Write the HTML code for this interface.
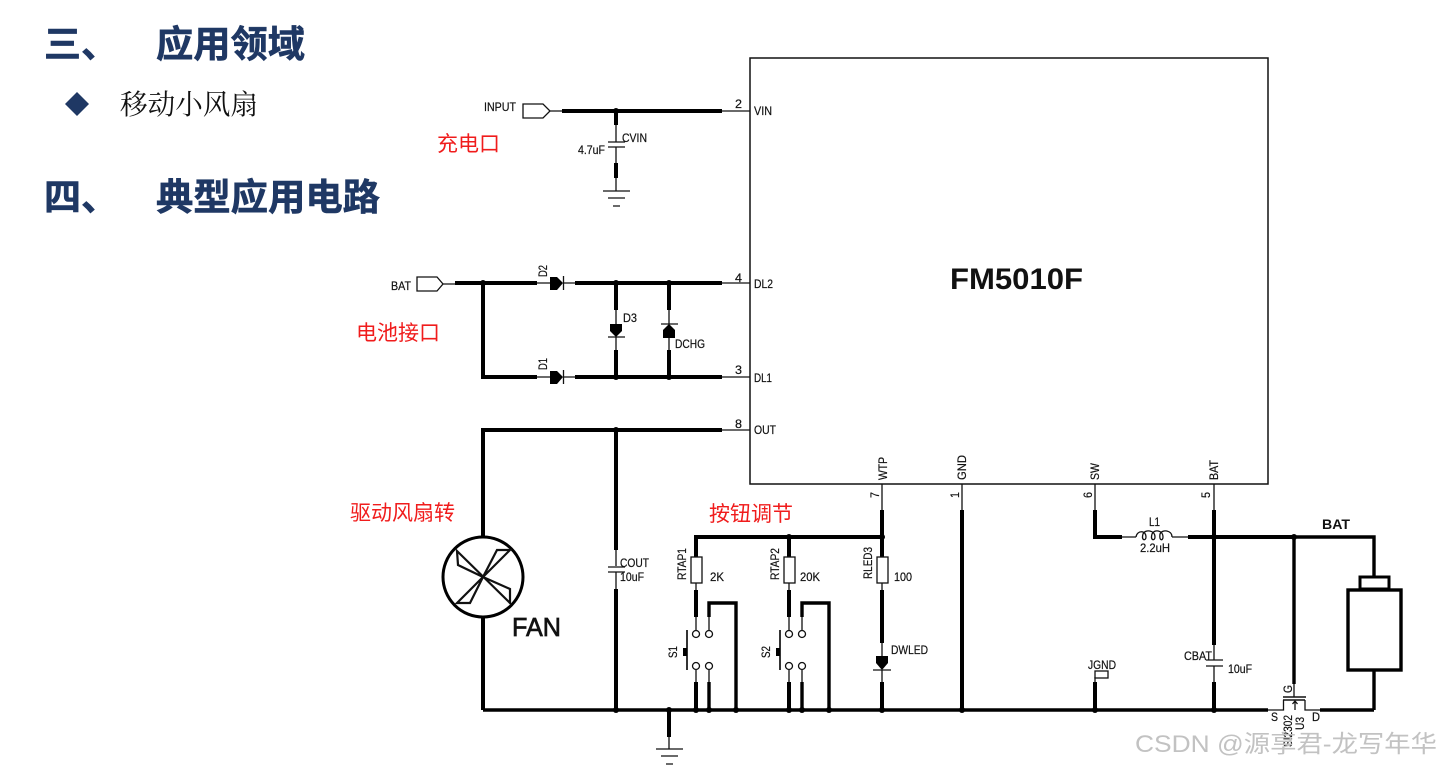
<!DOCTYPE html>
<html>
<head>
<meta charset="utf-8">
<style>
html,body{margin:0;padding:0;background:#fff;}
svg{display:block;}
text{font-family:"Liberation Sans","Noto Sans CJK SC",sans-serif;fill:#111;font-size:12px;stroke:#111;stroke-width:0.2;}
.h{font-family:"Liberation Sans","Noto Sans CJK SC",sans-serif;font-weight:700;font-size:37px;fill:#1f3864;stroke:#1f3864;stroke-width:0.6;}
.r{font-size:21px;fill:#f01c1c;stroke:none;}
.s{font-family:"Liberation Serif","Noto Serif CJK SC",serif;font-size:27.6px;fill:#111;stroke:none;}
.k{fill:none;stroke:#000;stroke-width:4;}
.m{fill:none;stroke:#000;stroke-width:3.4;}
.t{fill:none;stroke:#111;stroke-width:1.3;}
.o{fill:#fff;stroke:#111;stroke-width:1.3;}
</style>
</head>
<body>
<svg width="1441" height="769" viewBox="0 0 1441 769" xmlns="http://www.w3.org/2000/svg">
<rect width="1441" height="769" fill="#fff"/>

<!-- Left text -->
<text class="h" x="44" y="57">三、</text>
<text class="h" x="156" y="57" textLength="149" lengthAdjust="spacingAndGlyphs">应用领域</text>
<polygon points="77,92 89,104 77,116 65,104" fill="#1f3864"/>
<text class="s" x="120" y="114">移动小风扇</text>
<text class="h" x="44" y="210">四、</text>
<text class="h" x="156" y="210" textLength="224" lengthAdjust="spacingAndGlyphs">典型应用电路</text>

<text class="r" x="437" y="151">充电口</text>
<text class="r" x="356" y="340">电池接口</text>
<text class="r" x="350" y="520">驱动风扇转</text>
<text class="r" x="709" y="521">按钮调节</text>

<!-- Chip -->
<rect x="750" y="58" width="518" height="426" fill="#fff" stroke="#111" stroke-width="1.5"/>
<text x="950" y="289" style="font-size:30px;font-weight:700;stroke-width:0" textLength="133" lengthAdjust="spacingAndGlyphs">FM5010F</text>

<!-- Input section -->
<polygon class="o" points="523,104 543,104 550,111 543,118 523,118"/>
<path class="t" d="M550 111H562M722 111H750M616 125V142M616 147V163M616 178V191"/>
<path class="k" d="M562 111H722M616 111V125M616 163V178"/>
<path class="t" stroke-width="1.6" d="M608 142H625M608 147H625M603 191H630M608 198H625M613 206H620"/>

<!-- BAT diode section -->
<polygon class="o" points="417,277 437,277 443,284 437,291 417,291"/>
<path class="t" d="M443 284H455M537 283H550M563 283H575M722 283H750M537 377H550M563 377H575M722 377H750M616 310V325M616 337V350M669 310V324M669 338V350"/>
<path class="k" d="M455 283H537M575 283H722M483 283V377H537M575 377H722M616 283V310M616 350V377M669 283V310M669 350V377"/>
<polygon points="550,277 557,277 563,283 557,290 550,290" fill="#000"/>
<path class="t" d="M563.500 276V290M563.500 370V384"/>
<polygon points="550,371 557,371 563,377 557,384 550,384" fill="#000"/>
<polygon points="610,324 622,324 622,331 616,337 610,331" fill="#000"/>
<path class="t" d="M608 337H625M661 324H678"/>
<polygon points="669,324 675,330 675,338 663,338 663,330" fill="#000"/>

<!-- OUT / FAN -->
<path class="t" d="M722 430H750M616 550V566M616 572V589"/>
<path class="k" d="M722 430H483V537M483 617V710M616 430V550M616 589V710"/>
<path class="t" stroke-width="1.6" d="M608 567H625M608 572H625"/>
<circle cx="483" cy="577" r="40" fill="#fff" stroke="#000" stroke-width="3"/>
<path fill="none" stroke="#111" stroke-width="2.200" d="M457 551L510 603V589L483 577L458 565ZM510 550L457 603H470L483 577L497 550Z"/>

<!-- Bottom bus -->
<path class="m" d="M483 710H1268M1320 710H1374"/>
<path class="k" d="M669 710V737"/>
<path class="t" d="M669 737V749"/>
<path class="t" stroke-width="1.6" d="M656 749H683M661 756H678M666 764H673"/>

<!-- Top button rail -->
<path class="k" d="M696 557V537H882"/>
<path class="k" d="M789 537V557"/>

<!-- RTAP1 + S1 -->
<rect class="o" x="691" y="557" width="11" height="26"/>
<path class="t" d="M696 583V590M696 617V630M696 670V682M709 617V630M709 670V682"/>
<path class="k" d="M696 590V617M696 682V710"/>
<path class="m" d="M709 617V603H736V710M709 682V710"/>
<circle class="o" cx="696" cy="634" r="3.500"/><circle class="o" cx="709" cy="634" r="3.500"/>
<circle class="o" cx="696" cy="666" r="3.500"/><circle class="o" cx="709" cy="666" r="3.500"/>
<path d="M687 630V670" stroke="#000" stroke-width="1.600"/>
<rect x="683" y="648" width="4" height="8" fill="#000"/>

<!-- RTAP2 + S2 -->
<rect class="o" x="784" y="557" width="11" height="26"/>
<path class="t" d="M789 583V590M789 617V630M789 670V682M802 617V630M802 670V682"/>
<path class="k" d="M789 590V617M789 682V710"/>
<path class="m" d="M802 617V603H829V710M802 682V710"/>
<circle class="o" cx="789" cy="634" r="3.500"/><circle class="o" cx="802" cy="634" r="3.500"/>
<circle class="o" cx="789" cy="666" r="3.500"/><circle class="o" cx="802" cy="666" r="3.500"/>
<path d="M780 630V670" stroke="#000" stroke-width="1.600"/>
<rect x="776" y="648" width="4" height="8" fill="#000"/>

<!-- RLED3 + DWLED -->
<path class="t" d="M882 484V510M882 583V590M882 643V656M882 670V682"/>
<path class="k" d="M882 510V557M882 590V643M882 682V710"/>
<rect class="o" x="877" y="557" width="11" height="26"/>
<polygon points="876,656 888,656 888,663 882,670 876,663" fill="#000"/>
<path class="t" stroke-width="1.600" d="M873 670H891"/>

<!-- GND -->
<path class="t" d="M962 484V510"/>
<path class="k" d="M962 510V710"/>

<!-- SW / L1 / BAT -->
<path class="t" d="M1095 484V510M1214 484V510M1122 537H1136M1172 537H1188M1214 645V660M1214 666V682"/>
<path class="k" d="M1095 510V537H1122M1188 537H1294M1214 510V645M1214 682V710"/>
<path class="m" d="M1294 537H1374V577M1294 537V684M1374 670V710"/>
<path fill="none" stroke="#111" stroke-width="1.300" d="M1136 537C1137 530 1146 530 1146 537C1146 541 1141 541 1143 534C1145 529 1155 530 1155 537C1155 541 1150 541 1152 534C1154 529 1163 530 1163 537C1163 541 1159 541 1160 534C1162 529 1172 530 1172 537"/>
<path class="t" stroke-width="1.600" d="M1206 660H1223M1206 666H1223"/>

<!-- Battery -->
<rect x="1360" y="577" width="29" height="12" fill="#fff" stroke="#000" stroke-width="3"/>
<rect x="1348" y="590" width="53" height="80" fill="#fff" stroke="#000" stroke-width="3.400"/>

<!-- JGND -->
<path class="t" d="M1095 677V682"/>
<path class="k" d="M1095 682V710"/>
<rect class="o" x="1095" y="671" width="13" height="7"/>

<!-- FET -->
<path class="t" d="M1268 710H1283.500V700M1305 700V710H1320M1294 684V697M1295 710V701M1292.500 704L1295 701L1297.500 704"/>
<path d="M1283 700H1305M1283 697H1306" stroke="#111" stroke-width="1.600"/>

<!-- Junction dots -->
<g fill="#000">
<circle cx="616" cy="111" r="3"/>
<circle cx="483" cy="283" r="3"/>
<circle cx="616" cy="283" r="3"/><circle cx="669" cy="283" r="3"/>
<circle cx="616" cy="377" r="3"/><circle cx="669" cy="377" r="3"/>
<circle cx="616" cy="430" r="3"/>
<circle cx="616" cy="710" r="3"/><circle cx="669" cy="710" r="3"/>
<circle cx="696" cy="710" r="3"/><circle cx="709" cy="710" r="3"/><circle cx="736" cy="710" r="3"/>
<circle cx="789" cy="710" r="3"/><circle cx="802" cy="710" r="3"/><circle cx="829" cy="710" r="3"/>
<circle cx="882" cy="710" r="3"/><circle cx="962" cy="710" r="3"/><circle cx="1095" cy="710" r="3"/><circle cx="1214" cy="710" r="3"/>
<circle cx="789" cy="537" r="3"/><circle cx="882" cy="537" r="3"/>
<circle cx="1214" cy="537" r="3"/><circle cx="1294" cy="537" r="3"/>
</g>

<!-- Labels -->
<text x="484" y="111" textLength="32" lengthAdjust="spacingAndGlyphs">INPUT</text>
<text x="735" y="108" textLength="7" lengthAdjust="spacingAndGlyphs">2</text>
<text x="754" y="115" textLength="18" lengthAdjust="spacingAndGlyphs">VIN</text>
<text x="622" y="142" textLength="25" lengthAdjust="spacingAndGlyphs">CVIN</text>
<text x="578" y="154" textLength="27" lengthAdjust="spacingAndGlyphs">4.7uF</text>
<text x="391" y="290" textLength="20" lengthAdjust="spacingAndGlyphs">BAT</text>
<text transform="translate(547,277) rotate(-90)" textLength="12" lengthAdjust="spacingAndGlyphs">D2</text>
<text transform="translate(547,370) rotate(-90)" textLength="12" lengthAdjust="spacingAndGlyphs">D1</text>
<text x="623" y="322" textLength="14" lengthAdjust="spacingAndGlyphs">D3</text>
<text x="675" y="348" textLength="30" lengthAdjust="spacingAndGlyphs">DCHG</text>
<text x="735" y="282" textLength="7" lengthAdjust="spacingAndGlyphs">4</text>
<text x="754" y="288" textLength="19" lengthAdjust="spacingAndGlyphs">DL2</text>
<text x="735" y="374" textLength="7" lengthAdjust="spacingAndGlyphs">3</text>
<text x="754" y="382" textLength="18" lengthAdjust="spacingAndGlyphs">DL1</text>
<text x="735" y="428" textLength="7" lengthAdjust="spacingAndGlyphs">8</text>
<text x="754" y="434" textLength="22" lengthAdjust="spacingAndGlyphs">OUT</text>
<text x="512" y="636" style="font-size:26px;stroke-width:0.7" textLength="49" lengthAdjust="spacingAndGlyphs">FAN</text>
<text x="620" y="567" textLength="29" lengthAdjust="spacingAndGlyphs">COUT</text>
<text x="620" y="581" textLength="24" lengthAdjust="spacingAndGlyphs">10uF</text>
<text transform="translate(686,580) rotate(-90)" textLength="32" lengthAdjust="spacingAndGlyphs">RTAP1</text>
<text x="710" y="581" textLength="14" lengthAdjust="spacingAndGlyphs">2K</text>
<text transform="translate(779,580) rotate(-90)" textLength="32" lengthAdjust="spacingAndGlyphs">RTAP2</text>
<text x="800" y="581" textLength="20" lengthAdjust="spacingAndGlyphs">20K</text>
<text transform="translate(872,579) rotate(-90)" textLength="32" lengthAdjust="spacingAndGlyphs">RLED3</text>
<text x="894" y="581" textLength="18" lengthAdjust="spacingAndGlyphs">100</text>
<text transform="translate(677,658) rotate(-90)" textLength="12" lengthAdjust="spacingAndGlyphs">S1</text>
<text transform="translate(770,658) rotate(-90)" textLength="12" lengthAdjust="spacingAndGlyphs">S2</text>
<text x="891" y="654" textLength="37" lengthAdjust="spacingAndGlyphs">DWLED</text>
<text transform="translate(887,480) rotate(-90)" textLength="23" lengthAdjust="spacingAndGlyphs">WTP</text>
<text transform="translate(879,498) rotate(-90)" textLength="6" lengthAdjust="spacingAndGlyphs">7</text>
<text transform="translate(966,480) rotate(-90)" textLength="25" lengthAdjust="spacingAndGlyphs">GND</text>
<text transform="translate(959,498) rotate(-90)" textLength="6" lengthAdjust="spacingAndGlyphs">1</text>
<text transform="translate(1099,480) rotate(-90)" textLength="17" lengthAdjust="spacingAndGlyphs">SW</text>
<text transform="translate(1092,498) rotate(-90)" textLength="6" lengthAdjust="spacingAndGlyphs">6</text>
<text transform="translate(1218,480) rotate(-90)" textLength="20" lengthAdjust="spacingAndGlyphs">BAT</text>
<text transform="translate(1210,498) rotate(-90)" textLength="6" lengthAdjust="spacingAndGlyphs">5</text>
<text x="1149" y="526" textLength="11" lengthAdjust="spacingAndGlyphs">L1</text>
<text x="1140" y="552" textLength="30" lengthAdjust="spacingAndGlyphs">2.2uH</text>
<text x="1322" y="529" style="font-size:14px;font-weight:700;stroke-width:0" textLength="28" lengthAdjust="spacingAndGlyphs">BAT</text>
<text x="1088" y="669" textLength="28" lengthAdjust="spacingAndGlyphs">JGND</text>
<text x="1184" y="660" textLength="28" lengthAdjust="spacingAndGlyphs">CBAT</text>
<text x="1228" y="673" textLength="24" lengthAdjust="spacingAndGlyphs">10uF</text>
<text x="1271" y="721" textLength="7" lengthAdjust="spacingAndGlyphs">S</text>
<text x="1312" y="721" textLength="8" lengthAdjust="spacingAndGlyphs">D</text>
<text transform="translate(1292,693) rotate(-90)" textLength="8" lengthAdjust="spacingAndGlyphs">G</text>
<text transform="translate(1292,747) rotate(-90)" textLength="32" lengthAdjust="spacingAndGlyphs">SI2302</text>
<text transform="translate(1304,730) rotate(-90)" textLength="13" lengthAdjust="spacingAndGlyphs">U3</text>

<!-- Watermark -->
<text x="1135" y="752" style="font-size:24px;fill:#c2c2c2;stroke:none" textLength="302" lengthAdjust="spacingAndGlyphs">CSDN @源享君-龙写年华</text>
</svg>
</body>
</html>
